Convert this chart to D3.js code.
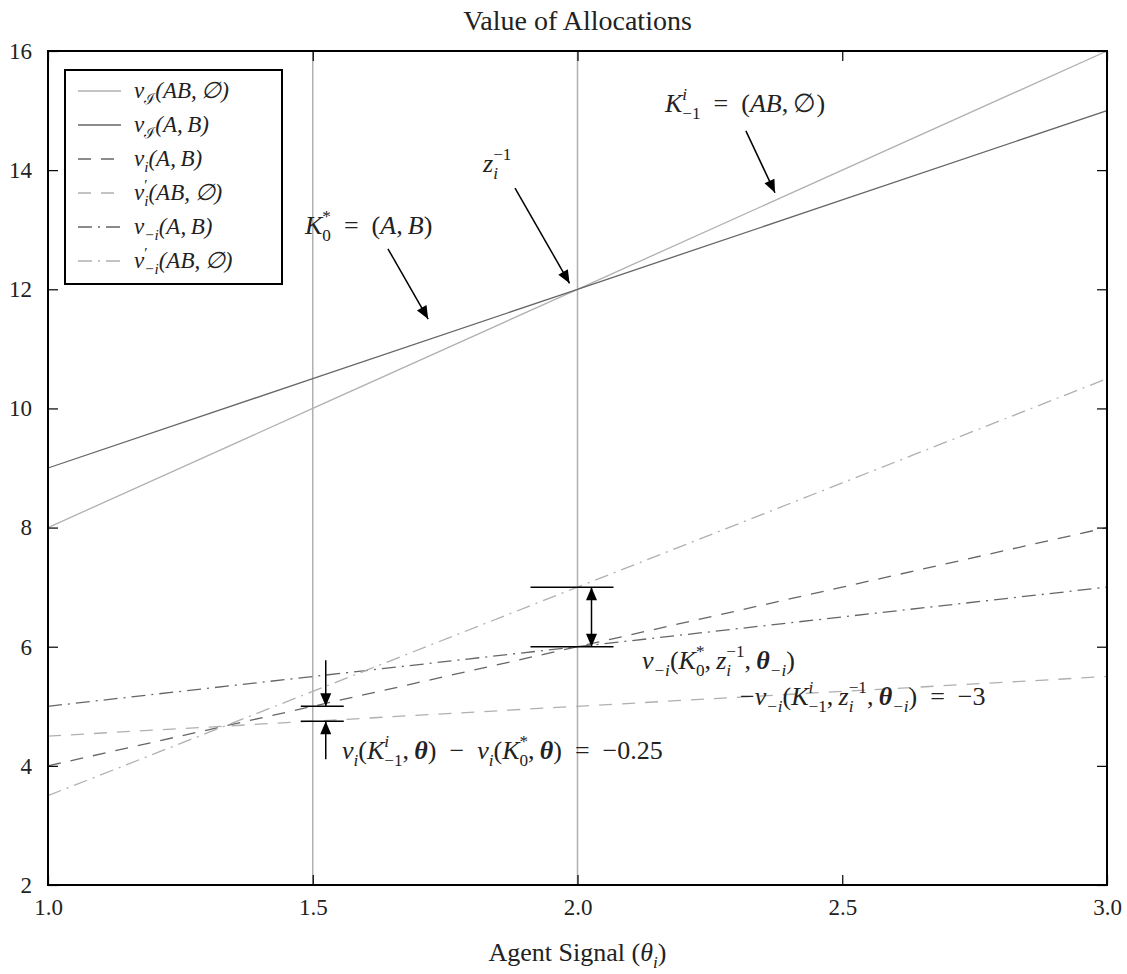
<!DOCTYPE html>
<html>
<head>
<meta charset="utf-8">
<script src="https://cdn.jsdelivr.net/npm/d3@7"></script>
<style>
  html, body { margin: 0; padding: 0; background: #fff; }
  svg { display: block; }
</style>
</head>
<body>
<div id="chart"></div>
<script>
// Agent signal values at which each valuation is read
const thetas = [1.0, 1.5, 2.0, 2.5, 3.0];

// Valuations of the two allocations
const vIndAB   = [8, 10, 12, 14, 16];        // v_I(AB, ∅)
const vIndAandB = [9, 10.5, 12, 13.5, 15];   // v_I(A, B)
const viAandB  = [4, 5, 6, 7, 8];            // v_i(A, B)
const viPrimeAB = [4.5, 4.75, 5, 5.25, 5.5]; // v'_i(AB, ∅)
const vmiAandB = [5, 5.5, 6, 6.5, 7];        // v_-i(A, B)
const vmiPrimeAB = [3.5, 5.25, 7, 8.75, 10.5]; // v'_-i(AB, ∅)

// Axis ticks
const xTicks = [1.0, 1.5, 2.0, 2.5, 3.0];
const yTicks = [2, 4, 6, 8, 10, 12, 14, 16];

// Signals marked with vertical guides
const markedSignals = [1.5, 2.0];

const W = 1127, H = 974;
const margin = { left: 48, right: 20, top: 51, bottom: 89 };
const plotW = W - margin.left - margin.right;
const plotH = H - margin.top - margin.bottom;

const SERIF = "'Liberation Serif', 'Times New Roman', 'DejaVu Serif', serif";
const MATH = "'Liberation Serif', 'Times New Roman', 'DejaVu Serif', serif";
const DARK = '#666666';
const LIGHT = '#b0b0b0';
const SP = '\u2002'; // spacing around binary operators
const TH = '\u2009'; // thin space after commas

const series = [
  { values: vIndAB,    color: LIGHT, dash: null,
    label: [['v','i'],['ℐ','r','sub'],['(AB,' + TH + '∅)','i']] },
  { values: vIndAandB, color: DARK,  dash: null,
    label: [['v','i'],['ℐ','r','sub'],['(A,' + TH + 'B)','i']] },
  { values: viAandB,   color: DARK,  dash: '13,10',
    label: [['v','i'],['i','i','sub'],['(A,' + TH + 'B)','i']] },
  { values: viPrimeAB, color: LIGHT, dash: '13,10',
    label: [['v','i'],['′','r','sup'],['i','i','stack'],['(AB,' + TH + '∅)','i']] },
  { values: vmiAandB,  color: DARK,  dash: '14,6,2,6',
    label: [['v','i'],['−i','i','sub'],['(A,' + TH + 'B)','i']] },
  { values: vmiPrimeAB, color: LIGHT, dash: '14,6,2,6',
    label: [['v','i'],['′','r','sup'],['−i','i','stack'],['(AB,' + TH + '∅)','i']] }
];

const svg = d3.select('#chart').append('svg')
  .attr('width', W).attr('height', H);

const x = d3.scaleLinear().domain([1, 3]).range([margin.left, margin.left + plotW]);
const y = d3.scaleLinear().domain([2, 16]).range([margin.top + plotH, margin.top]);

// Draws a small piece of math: parts are [text, style, position].
// 'stack' places a subscript under the superscript just drawn.
function mathText(parent, px, py, parts, size, anchor) {
  const t = parent.append('text')
    .attr('x', px).attr('y', py)
    .attr('font-family', MATH)
    .attr('font-size', size)
    .attr('fill', '#222');
  let off = 0, lastLen = 0, pending = 0;
  parts.forEach(([txt, style, pos]) => {
    let target = 0;
    if (pos === 'sup') target = -0.45 * size;
    else if (pos === 'sub' || pos === 'stack') target = 0.28 * size;
    const sp = t.append('tspan')
      .attr('dy', target - off)
      .attr('font-family', MATH)
      .attr('font-size', pos ? size * 0.66 : size)
      .attr('font-style', style === 'r' ? 'normal' : 'italic')
      .attr('font-weight', style === 'b' ? 'bold' : 'normal')
      .text(txt);
    const len = sp.node().getComputedTextLength();
    if (pos === 'stack') {
      sp.attr('dx', -lastLen);
      pending = Math.max(0, lastLen - len);
    } else {
      if (pending) sp.attr('dx', pending);
      pending = 0;
    }
    off = target;
    lastLen = len;
  });
  if (anchor) t.attr('text-anchor', anchor);
  return t;
}

// Title
svg.append('text')
  .attr('x', x(2)).attr('y', 30)
  .attr('text-anchor', 'middle')
  .attr('font-family', SERIF).attr('font-size', 28)
  .attr('fill', '#222')
  .text('Value of Allocations');

// Vertical guides at the marked signals
svg.append('g').selectAll('line').data(markedSignals).join('line')
  .attr('x1', d => x(d)).attr('x2', d => x(d))
  .attr('y1', y(2)).attr('y2', y(16))
  .attr('stroke', LIGHT).attr('stroke-width', 1.5);

// Series lines
const line = d3.line().x((d, i) => x(thetas[i])).y(d => y(d));
svg.append('g').selectAll('path').data(series).join('path')
  .attr('d', d => line(d.values))
  .attr('fill', 'none')
  .attr('stroke', d => d.color)
  .attr('stroke-width', 1.3)
  .attr('stroke-dasharray', d => d.dash);

// Axes with inward ticks on every side
function styleAxis(g) {
  g.select('.domain').remove();
  g.selectAll('.tick line').attr('stroke', '#000').attr('stroke-width', 1.2);
  g.selectAll('.tick text').attr('font-family', SERIF).attr('font-size', 23).attr('fill', '#222');
}
svg.append('g').attr('transform', `translate(0,${y(2)})`)
  .call(d3.axisBottom(x).tickValues(xTicks).tickFormat(d3.format('.1f')).tickSize(-10).tickPadding(14))
  .call(styleAxis);
svg.append('g').attr('transform', `translate(${x(1)},0)`)
  .call(d3.axisLeft(y).tickValues(yTicks).tickFormat(d3.format('d')).tickSize(-10).tickPadding(16))
  .call(styleAxis);
svg.append('g').attr('transform', `translate(0,${y(16)})`)
  .call(d3.axisTop(x).tickValues(xTicks).tickFormat('').tickSize(-10))
  .call(styleAxis);
svg.append('g').attr('transform', `translate(${x(3)},0)`)
  .call(d3.axisRight(y).tickValues(yTicks).tickFormat('').tickSize(-10))
  .call(styleAxis);

// Plot frame
svg.append('rect')
  .attr('x', x(1)).attr('y', y(16))
  .attr('width', x(3) - x(1)).attr('height', y(2) - y(16))
  .attr('fill', 'none').attr('stroke', '#000').attr('stroke-width', 2);

// X axis title
mathText(svg, x(2), 961, [['Agent Signal (', 'r'], ['θ', 'i'], ['i', 'i', 'sub'], [')', 'r']], 26, 'middle');

// Legend
const leg = svg.append('g');
leg.append('rect')
  .attr('x', 65).attr('y', 70).attr('width', 217).attr('height', 214)
  .attr('fill', '#fff').attr('stroke', '#000').attr('stroke-width', 2);
series.forEach((s, i) => {
  const ly = 91 + i * 34;
  leg.append('line')
    .attr('x1', 78).attr('x2', 121).attr('y1', ly).attr('y2', ly)
    .attr('stroke', s.color).attr('stroke-width', 1.3)
    .attr('stroke-dasharray', s.dash);
  mathText(leg, 134, ly + 7, s.label, 23);
});

// Arrow helper: line with a filled head at (x2, y2)
function arrow(g, x1, y1, x2, y2, both) {
  g.append('line').attr('x1', x1).attr('y1', y1).attr('x2', x2).attr('y2', y2)
    .attr('stroke', '#000').attr('stroke-width', 1.5);
  const head = (tx, ty, fx, fy) => {
    const a = Math.atan2(ty - fy, tx - fx), L = 13, w = 5.5;
    const bx = tx - L * Math.cos(a), by = ty - L * Math.sin(a);
    g.append('path')
      .attr('d', `M${tx},${ty}L${bx + w * Math.sin(a)},${by - w * Math.cos(a)}L${bx - w * Math.sin(a)},${by + w * Math.cos(a)}Z`)
      .attr('fill', '#000');
  };
  head(x2, y2, x1, y1);
  if (both) head(x1, y1, x2, y2);
}

const ann = svg.append('g');
const EQ = SP + '=' + SP;

// Allocation callouts
mathText(ann, 305, 234, [['K', 'i'], ['*', 'r', 'sup'], ['0', 'r', 'stack'], [EQ + '(', 'r'], ['A', 'i'], [',' + TH, 'r'], ['B', 'i'], [')', 'r']], 26);
arrow(ann, x(1.642), y(12.68), x(1.718), y(11.5));

mathText(ann, 483, 172, [['z', 'i'], ['−1', 'r', 'sup'], ['i', 'i', 'stack']], 26);
arrow(ann, x(1.882), y(13.7), x(1.985), y(12.1));

mathText(ann, 665, 112, [['K', 'i'], ['i', 'i', 'sup'], ['−1', 'r', 'stack'], [EQ + '(', 'r'], ['AB', 'i'], [',' + TH + '∅)', 'r']], 26);
arrow(ann, x(2.318), y(14.66), x(2.373), y(13.62));

// Gap between v_i(A,B) and v'_i(AB,∅) at θ = 1.5
const gi = thetas.indexOf(1.5);
const xa = x(1.5);
[viAandB[gi], viPrimeAB[gi]].forEach(v => {
  ann.append('line').attr('x1', xa - 12).attr('x2', xa + 31)
    .attr('y1', y(v)).attr('y2', y(v))
    .attr('stroke', '#000').attr('stroke-width', 1.5);
});
arrow(ann, xa + 13, y(viAandB[gi]) - 46, xa + 13, y(viAandB[gi]));
arrow(ann, xa + 13, y(viPrimeAB[gi]) + 38, xa + 13, y(viPrimeAB[gi]));
mathText(ann, 342, 759, [['v', 'i'], ['i', 'i', 'sub'], ['(', 'r'], ['K', 'i'], ['i', 'i', 'sup'], ['−1', 'r', 'stack'], [',' + TH, 'r'], ['θ', 'b'], [')' + SP + '−' + SP, 'r'], ['v', 'i'], ['i', 'i', 'sub'], ['(', 'r'], ['K', 'i'], ['*', 'r', 'sup'], ['0', 'r', 'stack'], [',' + TH, 'r'], ['θ', 'b'], [')' + EQ + '−0.25', 'r']], 26);

// Gap between v'_-i(AB,∅) and v_-i(A,B) at θ = 2.0
const gj = thetas.indexOf(2.0);
const xb = x(2.0);
[vmiPrimeAB[gj], vmiAandB[gj]].forEach(v => {
  ann.append('line').attr('x1', xb - 47).attr('x2', xb + 36)
    .attr('y1', y(v)).attr('y2', y(v))
    .attr('stroke', '#000').attr('stroke-width', 1.5);
});
arrow(ann, xb + 14, y(vmiPrimeAB[gj]), xb + 14, y(vmiAandB[gj]), true);
mathText(ann, 642, 669, [['v', 'i'], ['−i', 'i', 'sub'], ['(', 'r'], ['K', 'i'], ['*', 'r', 'sup'], ['0', 'r', 'stack'], [',' + TH, 'r'], ['z', 'i'], ['−1', 'r', 'sup'], ['i', 'i', 'stack'], [',' + TH, 'r'], ['θ', 'b'], ['−i', 'i', 'sub'], [')', 'r']], 26);
mathText(ann, 740, 705, [['−', 'r'], ['v', 'i'], ['−i', 'i', 'sub'], ['(', 'r'], ['K', 'i'], ['i', 'i', 'sup'], ['−1', 'r', 'stack'], [',' + TH, 'r'], ['z', 'i'], ['−1', 'r', 'sup'], ['i', 'i', 'stack'], [',' + TH, 'r'], ['θ', 'b'], ['−i', 'i', 'sub'], [')' + EQ + '−3', 'r']], 26);
</script>
</body>
</html>
